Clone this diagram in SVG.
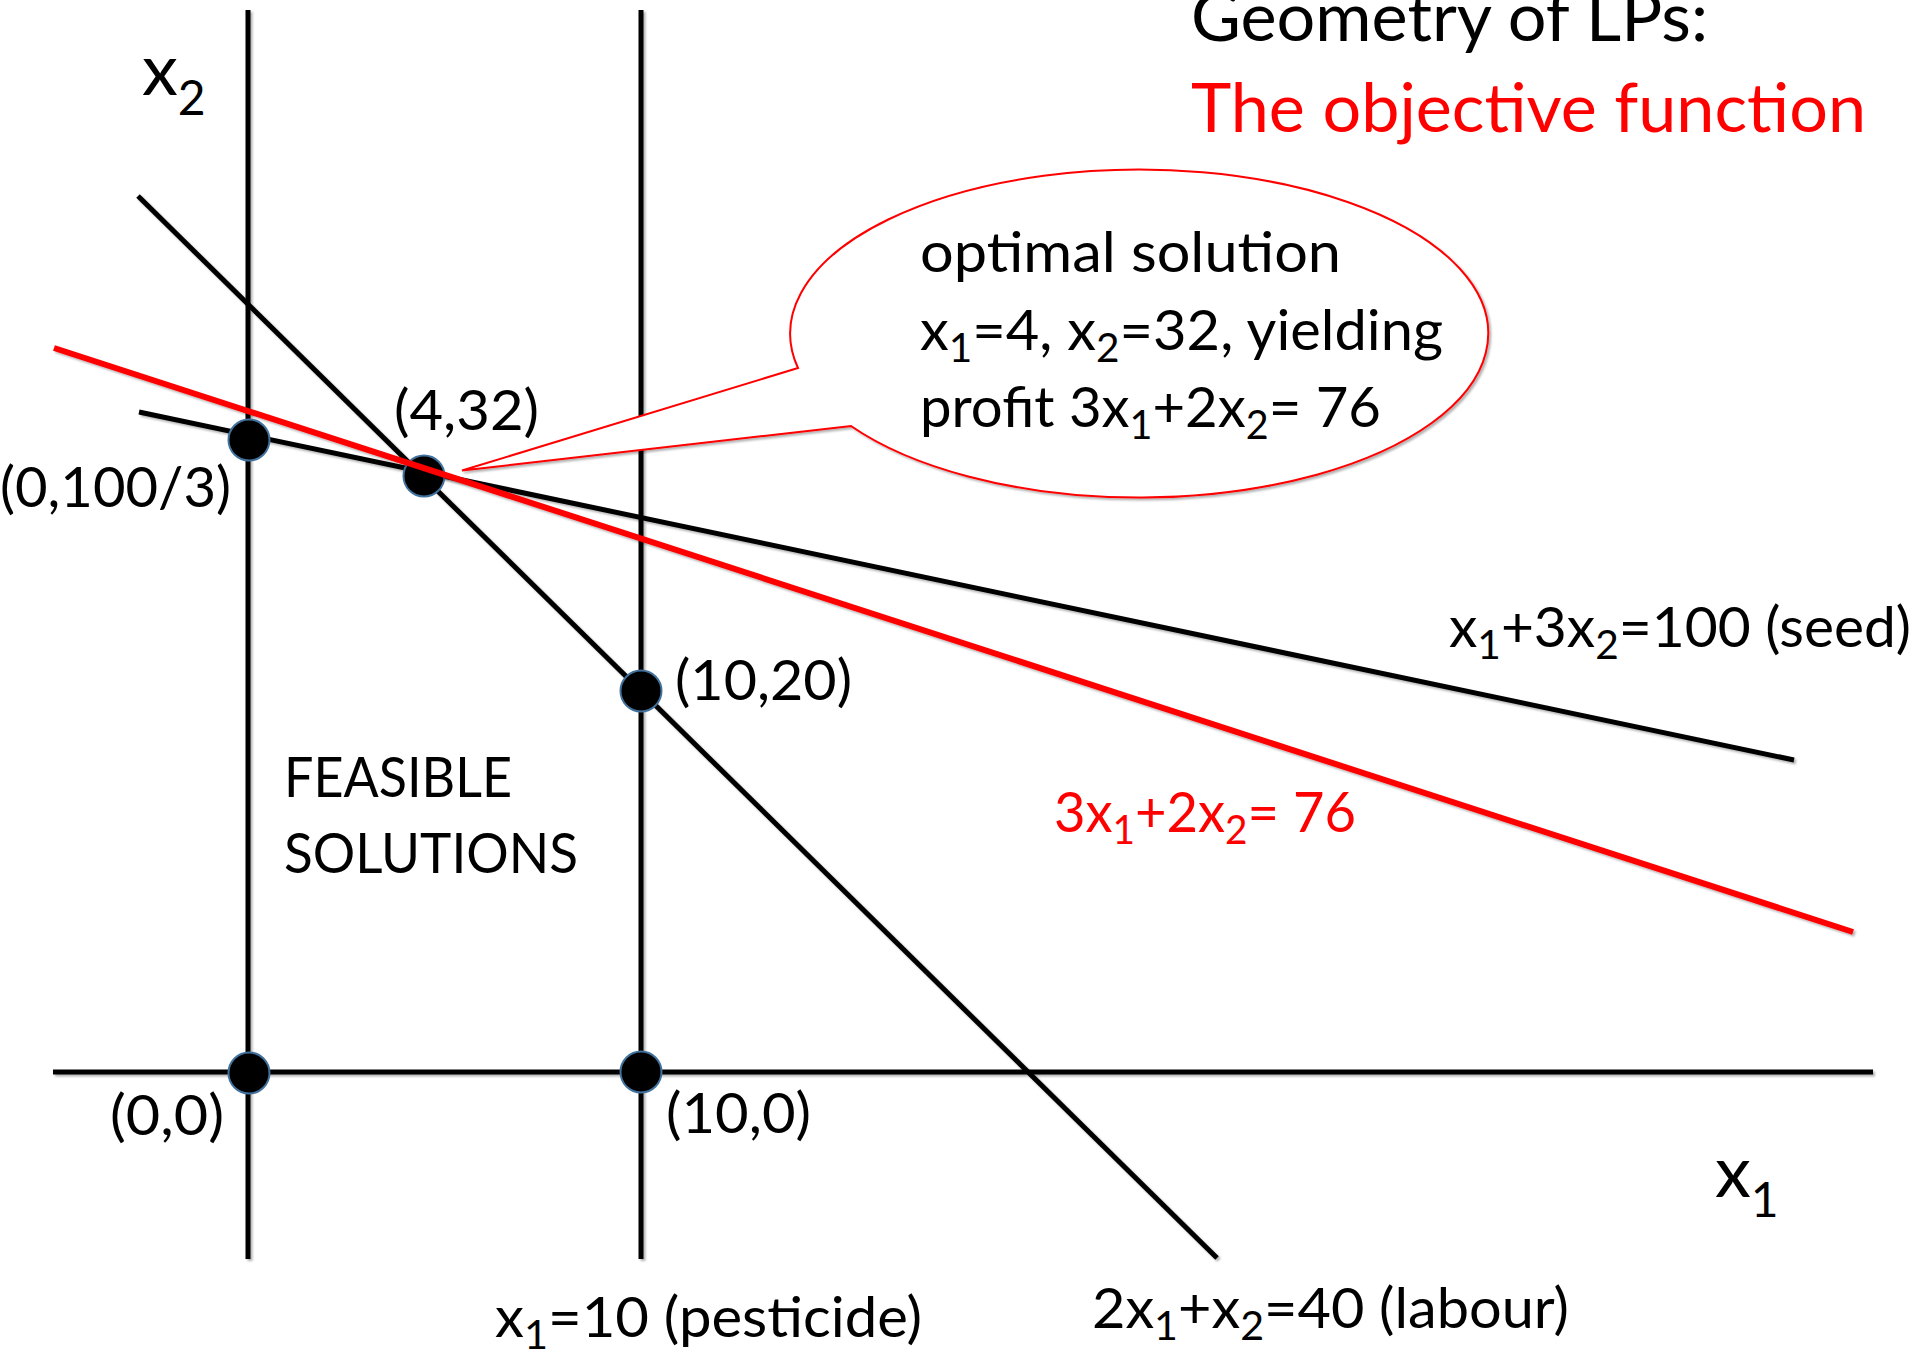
<svg xmlns="http://www.w3.org/2000/svg" width="1920" height="1350" viewBox="0 0 1920 1350">
<style>
  text { font-family: Lato, "Liberation Sans", sans-serif; fill: #000; }
  .red { fill: #FF0000; }
  .ln { stroke: #000; stroke-width: 5; fill: none; }
  .rl { stroke: #FF0000; stroke-width: 6; fill: none; }
  .pt { fill: #000; stroke: #41719C; stroke-width: 2; }
  .lbl { font-size: 56px; }
</style>
<defs>
  <filter id="sh" x="-5%" y="-5%" width="110%" height="110%">
    <feDropShadow dx="2" dy="2" stdDeviation="1.2" flood-color="#000" flood-opacity="0.3"/>
  </filter>
</defs>
<rect width="1920" height="1350" fill="#fff"/>

<g id="connectors" filter="url(#sh)">
  <line id="axis-x1" class="ln" x1="53" y1="1072" x2="1873" y2="1072"/>
  <line id="axis-x2" class="ln" x1="248" y1="10" x2="248" y2="1259"/>
  <line id="pesticide" class="ln" x1="641" y1="10" x2="641" y2="1259"/>
  <line id="labour" class="ln" x1="138" y1="196" x2="1217" y2="1258"/>
  <line id="seed" class="ln" x1="139" y1="412" x2="1794" y2="760"/>
</g>

<g id="points">
  <circle id="p-0-100-3" class="pt" cx="249" cy="440" r="20.5"/>
  <circle id="p-4-32" class="pt" cx="424" cy="476" r="20.5"/>
  <circle id="p-10-20" class="pt" cx="641" cy="691" r="20.5"/>
  <circle id="p-0-0" class="pt" cx="249" cy="1073" r="20.5"/>
  <circle id="p-10-0" class="pt" cx="641" cy="1072" r="20.5"/>
</g>

<g id="objective" filter="url(#sh)">
  <line class="rl" x1="54" y1="348" x2="1853" y2="932"/>
</g>

<g id="callout">
  <path filter="url(#sh)" d="M798 368 L462 470.5 L851 426 A349 164 0 1 0 798 368 Z" fill="#fff" stroke="#FF0000" stroke-width="2"/>
  <text font-size="57" x="920" y="272" textLength="421" lengthAdjust="spacingAndGlyphs">optimal solution</text>
  <text font-size="57" x="920" y="350" textLength="523" lengthAdjust="spacingAndGlyphs">x<tspan font-size="40" dy="12">1</tspan><tspan dy="-12">=4, x</tspan><tspan font-size="40" dy="12">2</tspan><tspan dy="-12">=32, yielding</tspan></text>
  <text font-size="57" x="920" y="427" textLength="461" lengthAdjust="spacingAndGlyphs">profit 3x<tspan font-size="40" dy="12">1</tspan><tspan dy="-12">+2x</tspan><tspan font-size="40" dy="12">2</tspan><tspan dy="-12">= 76</tspan></text>
</g>

<g id="title">
  <text font-size="67" x="1191" y="41" textLength="517" lengthAdjust="spacingAndGlyphs">Geometry of LPs:</text>
  <text class="red" font-size="67" x="1191" y="132" textLength="675" lengthAdjust="spacingAndGlyphs">The objective function</text>
</g>

<g id="axis-labels">
  <text font-size="72" x="142" y="95">x<tspan font-size="48" dy="20">2</tspan></text>
  <text font-size="72" x="1715" y="1197">x<tspan font-size="48" dy="20">1</tspan></text>
</g>

<g id="point-labels" class="lbl">
  <text class="lbl" x="0" y="507" textLength="231" lengthAdjust="spacingAndGlyphs">(0,100/3)</text>
  <text class="lbl" x="394" y="430" textLength="145" lengthAdjust="spacingAndGlyphs">(4,32)</text>
  <text class="lbl" x="675" y="700" textLength="177" lengthAdjust="spacingAndGlyphs">(10,20)</text>
  <text class="lbl" x="110" y="1135" textLength="114" lengthAdjust="spacingAndGlyphs">(0,0)</text>
  <text class="lbl" x="666" y="1133" textLength="145" lengthAdjust="spacingAndGlyphs">(10,0)</text>
</g>

<g id="region-label">
  <text class="lbl" x="284" y="797" textLength="228" lengthAdjust="spacingAndGlyphs">FEASIBLE</text>
  <text class="lbl" x="284" y="873" textLength="294" lengthAdjust="spacingAndGlyphs">SOLUTIONS</text>
</g>

<g id="line-labels">
  <text class="lbl red" x="1054" y="832" textLength="302" lengthAdjust="spacingAndGlyphs">3x<tspan font-size="40" dy="12">1</tspan><tspan dy="-12">+2x</tspan><tspan font-size="40" dy="12">2</tspan><tspan dy="-12">= 76</tspan></text>
  <text class="lbl" x="1449" y="647" textLength="462" lengthAdjust="spacingAndGlyphs">x<tspan font-size="40" dy="12">1</tspan><tspan dy="-12">+3x</tspan><tspan font-size="40" dy="12">2</tspan><tspan dy="-12">=100 (seed)</tspan></text>
  <text class="lbl" x="495" y="1337" textLength="427" lengthAdjust="spacingAndGlyphs">x<tspan font-size="40" dy="12">1</tspan><tspan dy="-12">=10 (pesticide)</tspan></text>
  <text class="lbl" x="1092" y="1328" textLength="477" lengthAdjust="spacingAndGlyphs">2x<tspan font-size="40" dy="12">1</tspan><tspan dy="-12">+x</tspan><tspan font-size="40" dy="12">2</tspan><tspan dy="-12">=40 (labour)</tspan></text>
</g>
</svg>
